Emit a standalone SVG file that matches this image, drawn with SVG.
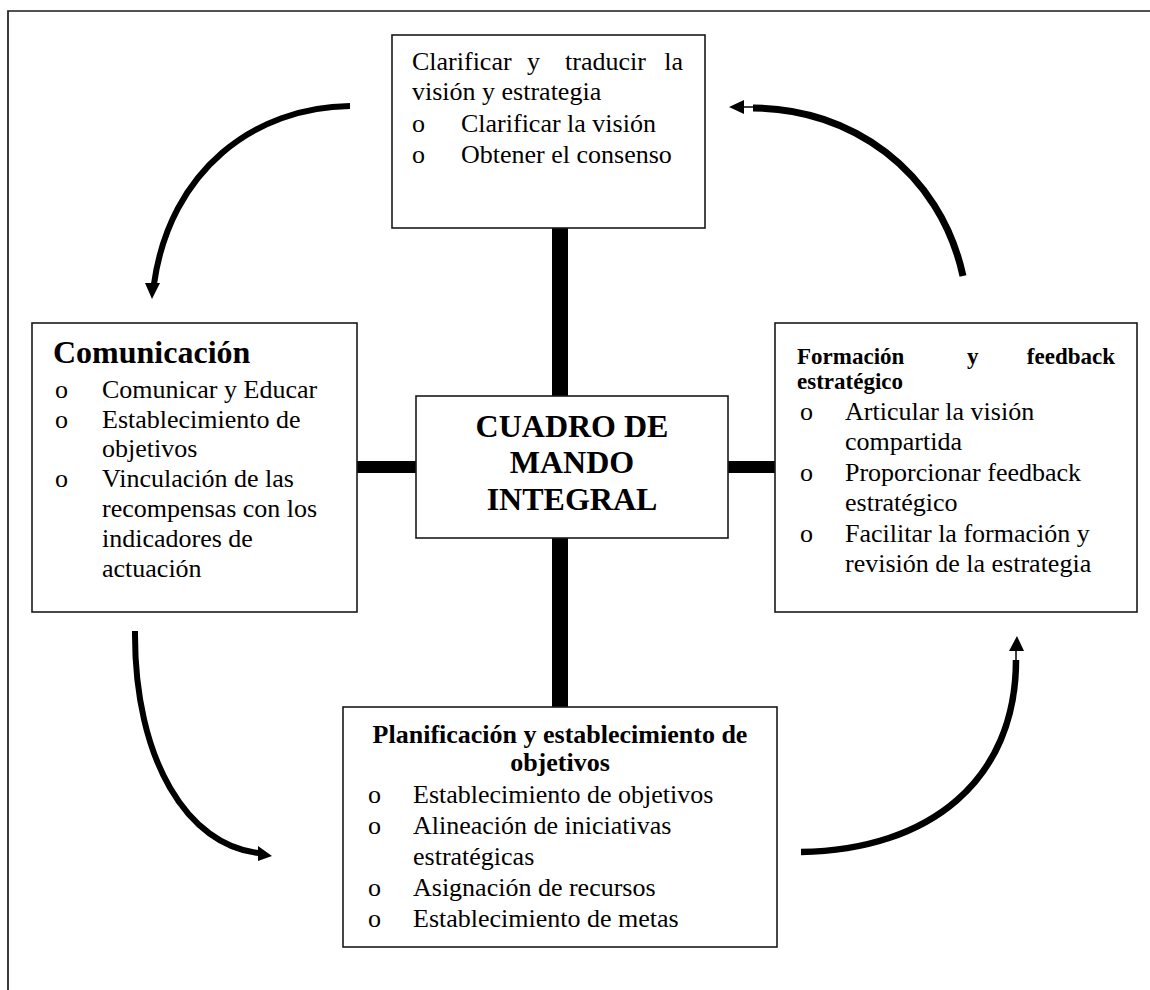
<svg xmlns="http://www.w3.org/2000/svg" width="1150" height="990" viewBox="0 0 1150 990">
  <style>
    .box { fill: #ffffff; stroke: #1a1a1a; stroke-width: 1.6; }
    .t { font-family: "Liberation Serif", "Times New Roman", serif; font-size: 26px; fill: #000; }
    .b { font-weight: bold; }
    .big { font-size: 32px; }
    .sub { font-size: 23px; }
    .bar { fill: #000; }
    .arc { fill: none; stroke: #000; stroke-linecap: butt; }
    .head { fill: #000; }
  </style>

  <rect width="1150" height="990" fill="#ffffff"/>

  <!-- page frame (top and left rules) -->
  <g id="frame" fill="none" stroke="#1a1a1a" stroke-width="1.7">
    <path d="M8,990 V11 H1150"/>
  </g>

  <!-- connectors: thick bars to the centre and curved cycle arrows -->
  <g id="connectors">
    <rect class="bar" x="552" y="228" width="16" height="170"/>
    <rect class="bar" x="552" y="537" width="16" height="171"/>
    <rect class="bar" x="357" y="461" width="60" height="12"/>
    <rect class="bar" x="727" y="461" width="49" height="12"/>

    <!-- top-left: down toward Comunicación -->
    <path class="arc" stroke-width="6" d="M350,106 C255,107 170,170 154,284"/>
    <polygon class="head" points="145,283 160,283 152,299"/>

    <!-- bottom-left: toward Planificación -->
    <path class="arc" stroke-width="6" d="M135,631 C134,760 188,846 259,853"/>
    <polygon class="head" points="258,846 272,856 258,861"/>

    <!-- bottom-right: up toward Formación -->
    <path class="arc" stroke-width="6.5" d="M801,852 C930,850 1016,780 1016,660"/>
    <line x1="1016" y1="662" x2="1016" y2="648" stroke="#000" stroke-width="1.5"/>
    <polygon class="head" points="1009,651 1024,651 1017,636"/>

    <!-- top-right: back to Clarificar -->
    <path class="arc" stroke-width="7" d="M963,276 C940,170 850,108 753,108"/>
    <line x1="755" y1="107" x2="741" y2="107" stroke="#000" stroke-width="1.5"/>
    <polygon class="head" points="744,100 744,114 729,107"/>
  </g>

  <!-- top node -->
  <g id="node-clarificar">
    <rect class="box" x="392" y="35" width="313" height="193"/>
    <text class="t" y="70"><tspan x="412">Clarificar</tspan><tspan x="527">y</tspan><tspan x="565">traducir</tspan><tspan x="683" text-anchor="end">la</tspan></text>
    <text class="t" x="412" y="100">visión y estrategia</text>
    <text class="t" x="412" y="132">o</text>
    <text class="t" x="461" y="132">Clarificar la visión</text>
    <text class="t" x="412" y="163">o</text>
    <text class="t" x="461" y="163">Obtener el consenso</text>
  </g>

  <!-- left node -->
  <g id="node-comunicacion">
    <rect class="box" x="32" y="323" width="325" height="289"/>
    <text class="t b big" x="53" y="363">Comunicación</text>
    <text class="t" x="55" y="398">o</text>
    <text class="t" x="102" y="398">Comunicar y Educar</text>
    <text class="t" x="55" y="428">o</text>
    <text class="t" x="102" y="428">Establecimiento de</text>
    <text class="t" x="102" y="457">objetivos</text>
    <text class="t" x="55" y="487">o</text>
    <text class="t" x="102" y="487">Vinculación de las</text>
    <text class="t" x="102" y="517">recompensas con los</text>
    <text class="t" x="102" y="547">indicadores de</text>
    <text class="t" x="102" y="577">actuación</text>
  </g>

  <!-- centre node -->
  <g id="node-cmi">
    <rect class="box" x="416" y="396" width="312" height="142"/>
    <text class="t b big" x="572" y="437" text-anchor="middle">CUADRO DE</text>
    <text class="t b big" x="572" y="473" text-anchor="middle">MANDO</text>
    <text class="t b big" x="572" y="510" text-anchor="middle">INTEGRAL</text>
  </g>

  <!-- right node -->
  <g id="node-formacion">
    <rect class="box" x="775" y="323" width="362" height="289"/>
    <text class="t b sub" y="364"><tspan x="797">Formación</tspan><tspan x="967">y</tspan><tspan x="1115" text-anchor="end">feedback</tspan></text>
    <text class="t b sub" x="797" y="389">estratégico</text>
    <text class="t" x="800" y="420">o</text>
    <text class="t" x="845" y="420">Articular la visión</text>
    <text class="t" x="845" y="450">compartida</text>
    <text class="t" x="800" y="481">o</text>
    <text class="t" x="845" y="481">Proporcionar feedback</text>
    <text class="t" x="845" y="511">estratégico</text>
    <text class="t" x="800" y="542">o</text>
    <text class="t" x="845" y="542">Facilitar la formación y</text>
    <text class="t" x="845" y="572">revisión de la estrategia</text>
  </g>

  <!-- bottom node -->
  <g id="node-planificacion">
    <rect class="box" x="343" y="707" width="434" height="240"/>
    <text class="t b" x="560" y="743" text-anchor="middle">Planificación y establecimiento de</text>
    <text class="t b" x="560" y="771" text-anchor="middle">objetivos</text>
    <text class="t" x="368" y="803">o</text>
    <text class="t" x="413" y="803">Establecimiento de objetivos</text>
    <text class="t" x="368" y="834">o</text>
    <text class="t" x="413" y="834">Alineación de iniciativas</text>
    <text class="t" x="413" y="865">estratégicas</text>
    <text class="t" x="368" y="896">o</text>
    <text class="t" x="413" y="896">Asignación de recursos</text>
    <text class="t" x="368" y="927">o</text>
    <text class="t" x="413" y="927">Establecimiento de metas</text>
  </g>
</svg>
